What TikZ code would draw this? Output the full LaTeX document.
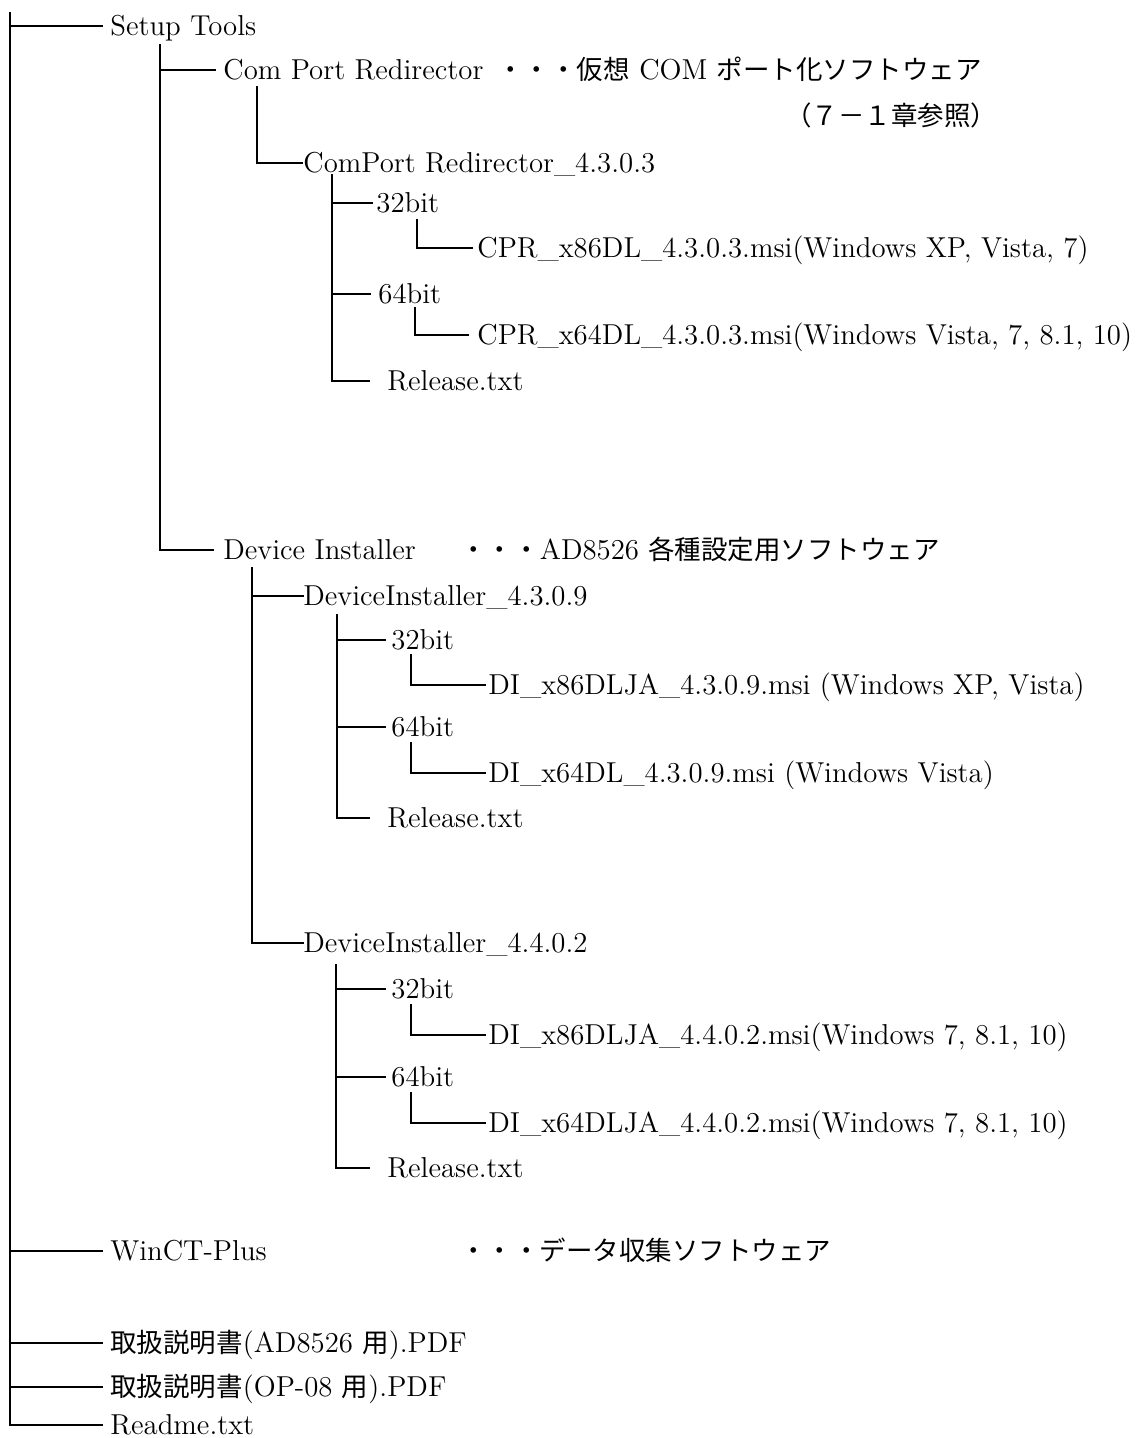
\documentclass[tikz,border=0pt]{standalone}
\usepackage{fontspec}
\newfontfamily\jp{Noto Sans CJK JP}[Scale=0.92]

\begin{document}
\begin{tikzpicture}[x=0.5pt,y=-0.5pt]
\tikzset{item/.style={anchor=west, inner sep=0pt, text height=9.8pt, text depth=0pt},
tree/.style={line width=0.9pt, line cap=rect}}
\fontsize{14.4pt}{17pt}
\selectfont
\useasboundingbox (0,0) rectangle (1136,1438);

% top level
\node[item] (setup) at (110,26) {Setup Tools};
\node[item] (winct) at (110,1251) {WinCT-Plus};
\node[item] (winnote) at (460,1251) {\jp ・・・データ収集ソフトウェア};
\node[item] (man1) at (110,1343) {{\jp 取扱説明書}(AD8526 {\jp 用}).PDF};
\node[item] (man2) at (110,1387) {{\jp 取扱説明書}(OP-08 {\jp 用}).PDF};
\node[item] (readme) at (110,1425) {Readme.txt};

% com port redirector
\node[item] (cpr) at (223,70) {Com Port Redirector};
\node[item] (cprnote) at (497,70) {{\jp ・・・仮想} COM {\jp ポート化ソフトウェア}};
\node[item] (cprref) at (785,116) {\jp （７－１章参照）};
\node[item] (cpr4303) at (303,163) {ComPort Redirector\_4.3.0.3};
\node[item] (cprA32) at (376,203) {32bit};
\node[item] (cprA86) at (477,248) {CPR\_x86DL\_4.3.0.3.msi(Windows XP, Vista, 7)};
\node[item] (cprA64) at (378,294) {64bit};
\node[item] (cprA64msi) at (477,335) {CPR\_x64DL\_4.3.0.3.msi(Windows Vista, 7, 8.1, 10)};
\node[item] (cprrel) at (387,381) {Release.txt};

% device installer
\node[item] (devinst) at (223,550) {Device Installer};
\node[item] (devnote) at (460,550) {{\jp ・・・}AD8526 {\jp 各種設定用ソフトウェア}};
\node[item] (di4309) at (303,596) {DeviceInstaller\_4.3.0.9};
\node[item] (diA32) at (391,640) {32bit};
\node[item] (diA86) at (488,685) {DI\_x86DLJA\_4.3.0.9.msi (Windows XP, Vista)};
\node[item] (diA64) at (391,727) {64bit};
\node[item] (diA64msi) at (488,773) {DI\_x64DL\_4.3.0.9.msi (Windows Vista)};
\node[item] (diArel) at (387,818) {Release.txt};
\node[item] (di4402) at (303,943) {DeviceInstaller\_4.4.0.2};
\node[item] (diB32) at (391,989) {32bit};
\node[item] (diB86) at (488,1035) {DI\_x86DLJA\_4.4.0.2.msi(Windows 7, 8.1, 10)};
\node[item] (diB64) at (391,1077) {64bit};
\node[item] (diB64msi) at (488,1123) {DI\_x64DLJA\_4.4.0.2.msi(Windows 7, 8.1, 10)};
\node[item] (diBrel) at (387,1168) {Release.txt};

% trunk tops
\coordinate (rootT) at (10,13);
\coordinate (setupT) at (160,45);
\coordinate (cprT) at (257,87);
\coordinate (cpr4303T) at (332,175);
\coordinate (cprA32T) at (417,220);
\coordinate (cprA64T) at (415,308);
\coordinate (devT) at (252,568);
\coordinate (di4309T) at (337,615);
\coordinate (diA32T) at (411,655);
\coordinate (diA64T) at (411,743);
\coordinate (di4402T) at (336,965);
\coordinate (diB32T) at (411,1005);
\coordinate (diB64T) at (411,1093);

% vertical lines
\foreach \t/\n in {rootT/readme, setupT/devinst, cprT/cpr4303, cpr4303T/cprrel,
  cprA32T/cprA86, cprA64T/cprA64msi, devT/di4402, di4309T/diArel, diA32T/diA86,
  diA64T/diA64msi, di4402T/diBrel, diB32T/diB86, diB64T/diB64msi}
  \draw[tree] (\t) -- (\t |- \n.west);

% branches
\foreach \t/\n/\g in {rootT/setup/4pt, rootT/winct/4pt, rootT/man1/4pt, rootT/man2/4pt,
  rootT/readme/4pt, setupT/cpr/4pt, setupT/devinst/5pt, cprT/cpr4303/0.5pt,
  cpr4303T/cprA32/2pt, cpr4303T/cprA64/4pt, cpr4303T/cprrel/9pt,
  cprA32T/cprA86/2.5pt, cprA64T/cprA64msi/4.5pt, devT/di4309/0pt, devT/di4402/0pt,
  di4309T/diA32/3pt, di4309T/diA64/3pt, di4309T/diArel/9pt,
  diA32T/diA86/1.5pt, diA64T/diA64msi/1.5pt,
  di4402T/diB32/3pt, di4402T/diB64/3pt, di4402T/diBrel/9pt,
  diB32T/diB86/1.5pt, diB64T/diB64msi/1.5pt}
  \draw[tree, shorten >=\g] (\t |- \n.west) -- (\n.west);

\end{tikzpicture}
\end{document}
